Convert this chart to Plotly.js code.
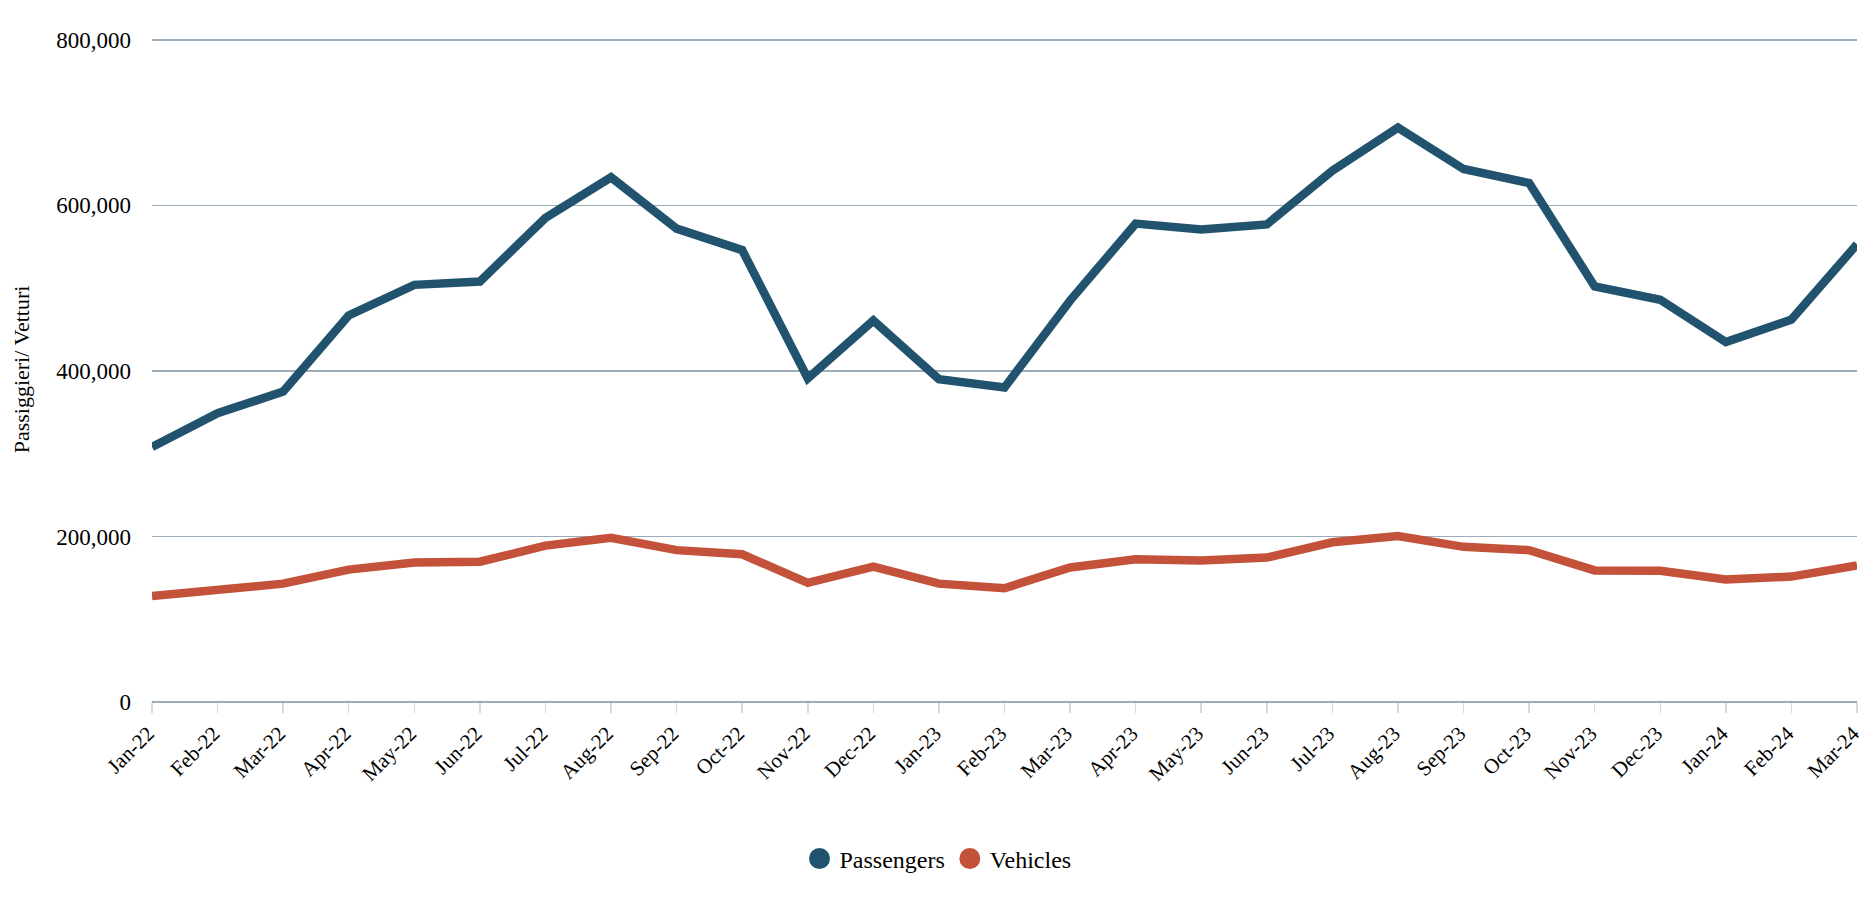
<!DOCTYPE html>
<html>
<head>
<meta charset="utf-8">
<script src="https://cdn.plot.ly/plotly-3.0.1.min.js"></script>
<style>
  html, body { margin: 0; padding: 0; background: #ffffff; }
  #chart { width: 1865px; height: 897px; }
</style>
</head>
<body>
<div id="chart"></div>
<script>
// Data
const months = ["Jan-22","Feb-22","Mar-22","Apr-22","May-22","Jun-22","Jul-22","Aug-22","Sep-22","Oct-22","Nov-22","Dec-22",
                "Jan-23","Feb-23","Mar-23","Apr-23","May-23","Jun-23","Jul-23","Aug-23","Sep-23","Oct-23","Nov-23","Dec-23",
                "Jan-24","Feb-24","Mar-24"];
const passengers = [308000, 349000, 375000, 467000, 504000, 508000, 585000, 634000, 572000, 546000, 391000, 461000,
                    390000, 380000, 485000, 578000, 571000, 577000, 642000, 694000, 644000, 627000, 502000, 486000,
                    435000, 462000, 553000];
const vehicles = [128000, 136000, 143000, 160000, 168500, 169500, 189000, 198500, 183500, 178500, 144000, 163500,
                  143000, 137500, 162500, 172500, 171000, 174500, 193000, 200500, 187500, 183500, 159000, 158500,
                  148000, 151500, 165000];
const seriesNames = ["Passengers", "Vehicles"];
const seriesColors = ["#21536f", "#c4513a"];
const yTicks = [0, 200000, 400000, 600000, 800000];

const font = "Liberation Serif, Times New Roman, serif";

const traces = [
  { x: months, y: passengers, type: "scatter", mode: "lines", name: seriesNames[0],
    line: { color: seriesColors[0], width: 8.5 }, showlegend: false, cliponaxis: true },
  { x: months, y: vehicles, type: "scatter", mode: "lines", name: seriesNames[1],
    line: { color: seriesColors[1], width: 8.5 }, showlegend: false, cliponaxis: true },
  // legend entries (circle markers)
  { x: [null], y: [null], type: "scatter", mode: "markers", name: seriesNames[0],
    marker: { color: seriesColors[0], size: 16, line: { color: seriesColors[0], width: 5 } } },
  { x: [null], y: [null], type: "scatter", mode: "markers", name: seriesNames[1],
    marker: { color: seriesColors[1], size: 16, line: { color: seriesColors[1], width: 5 } } }
];

const layout = {
  width: 1865, height: 897,
  margin: { l: 152, r: 8, t: 37, b: 195 },
  paper_bgcolor: "#ffffff", plot_bgcolor: "#ffffff",
  font: { family: font, size: 23, color: "#000000" },
  showlegend: true,
  legend: { orientation: "h", x: 0.461, xanchor: "center", y: -0.236, yanchor: "middle",
            font: { family: font, size: 24, color: "#000000" }, itemwidth: 30, tracegroupgap: 0 },
  xaxis: {
    type: "category", categoryorder: "array", categoryarray: months,
    range: [0, months.length - 1],
    tickangle: -45, tickfont: { family: font, size: 21, color: "#000000" },
    ticks: "outside", ticklen: 10, tickcolor: "#d9d9d9", tickwidth: 1.5,
    ticklabelshift: -4,
    showgrid: false, showline: false, zeroline: false, automargin: false
  },
  yaxis: {
    range: [0, 803500], tickvals: yTicks, tickformat: ",",
    tickfont: { family: font, size: 23, color: "#000000" },
    showgrid: true, gridcolor: "#9aacb9", gridwidth: 1.6,
    zeroline: true, zerolinecolor: "#9aacb9", zerolinewidth: 2.5,
    ticks: "", ticklabelstandoff: 20, automargin: false,
    title: { text: "Passiggieri/ Vetturi", font: { family: font, size: 22, color: "#000000" }, standoff: 20 }
  }
};

Plotly.newPlot("chart", traces, layout, { displayModeBar: false, staticPlot: true });
</script>
</body>
</html>
